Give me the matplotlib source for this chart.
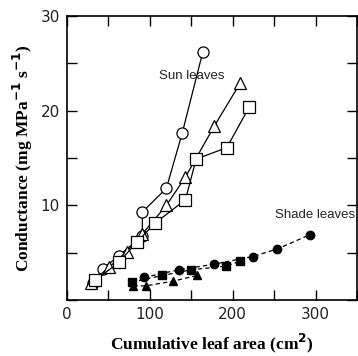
import matplotlib.pyplot as plt
from matplotlib.ticker import MultipleLocator, FixedLocator

# sun leaves (open symbols, solid lines)
sun_circle_x = [32, 43, 63, 91, 91, 120, 139, 164]
sun_circle_y = [1.8, 3.3, 4.7, 6.8, 9.3, 11.8, 17.6, 26.2]
sun_tri_x = [29, 51, 72, 91, 120, 143, 178, 209]
sun_tri_y = [1.8, 3.5, 5.1, 7.0, 10.0, 13.0, 18.4, 22.9]
sun_sq_x = [34, 63, 84, 106, 143, 156, 193, 220]
sun_sq_y = [2.1, 4.0, 6.1, 8.1, 10.6, 14.9, 16.1, 20.4]

# shade leaves (filled symbols, dashed lines)
shade_circle_x = [93, 135, 178, 224, 254, 293]
shade_circle_y = [2.4, 3.2, 3.8, 4.6, 5.4, 6.9]
shade_sq_x = [78, 115, 150, 192, 209]
shade_sq_y = [1.9, 2.6, 3.2, 3.6, 4.1]
shade_tri_x = [80, 95, 128, 157]
shade_tri_y = [1.5, 1.5, 2.0, 2.6]

fig = plt.figure(figsize=(3.58, 3.56), dpi=100)
ax = fig.add_axes([0.187, 0.157, 0.81, 0.798])

lw = 0.9
for x, y, m, ms in [(sun_circle_x, sun_circle_y, 'o', 8),
                    (sun_tri_x, sun_tri_y, '^', 8),
                    (sun_sq_x, sun_sq_y, 's', 8)]:
    ax.plot(x, y, '-', color='black', lw=lw, marker=m, ms=ms,
            mfc='white', mec='black', mew=0.9)

for x, y, m, ms in [(shade_tri_x, shade_tri_y, '^', 5.5),
                    (shade_sq_x, shade_sq_y, 's', 5.5),
                    (shade_circle_x, shade_circle_y, 'o', 6)]:
    ax.plot(x, y, '--', color='black', lw=lw, marker=m, ms=ms,
            mfc='black', mec='black', dashes=(3.5, 2.5))

ax.text(151, 23.7, 'Sun leaves', ha='center', va='center', fontsize=9.5,
        family='Liberation Sans', color='#222222')
ax.text(300, 9.0, 'Shade leaves', ha='center', va='center', fontsize=9.5,
        family='Liberation Sans', color='#222222')

ax.set_xlim(0, 350)
ax.set_ylim(0, 30)
ax.xaxis.set_major_locator(FixedLocator([0, 100, 200, 300]))
ax.xaxis.set_minor_locator(MultipleLocator(50))
ax.yaxis.set_major_locator(FixedLocator([10, 20, 30]))
ax.yaxis.set_minor_locator(MultipleLocator(5))
ax.tick_params(which='both', direction='in', top=True, right=True,
               length=7, width=1.0)
ax.tick_params(which='major', labelsize=11, labelcolor='#222222', pad=5)
for lab in ax.get_xticklabels() + ax.get_yticklabels():
    lab.set_family('DejaVu Sans')
for s in ax.spines.values():
    s.set_linewidth(1.2)

ax.set_xlabel('Cumulative leaf area (cm$^\\mathbf{2}$)', family='Liberation Serif',
              fontsize=12.5, fontweight='bold', labelpad=7)
ax.set_ylabel('Conductance (mg MPa$^{\\mathbf{-1}}$ s$^{\\mathbf{-1}}$)',
              family='Liberation Serif', fontsize=12.5, fontweight='bold', labelpad=4)

fig.savefig('out.png', dpi=100)
